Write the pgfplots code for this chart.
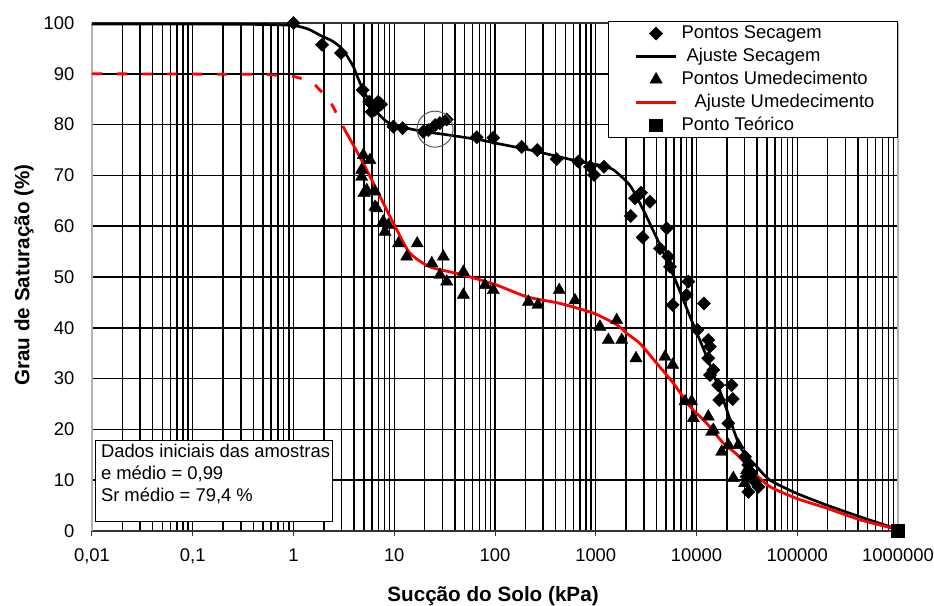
\documentclass[border=0pt]{standalone}
\usepackage{fontspec}
\setmainfont{Liberation Sans}
\usepackage{pgfplots}
\pgfplotsset{compat=1.18}
\newcommand{\rf}{\fontsize{13.8}{16}\selectfont}
\newcommand{\lbf}{\bfseries\fontsize{15.5}{18}\selectfont}
\begin{document}
\begin{tikzpicture}
\begin{axis}[
  scale only axis, width=604.5pt, height=381pt,
  xmode=log, log basis x=10,
  xmin=0.01, xmax=1000000, ymin=0, ymax=100,
  clip=false,
  xtick={0.01,0.1,1,10,100,1000,10000,100000,1000000},
  xticklabels={{0,01},{0,1},1,10,100,1000,10000,100000,1000000},
  minor xtick={0.02,0.03,0.04,0.05,0.06,0.07,0.08,0.09,
    0.2,0.3,0.4,0.5,0.6,0.7,0.8,0.9,
    2,3,4,5,6,7,8,9,
    20,30,40,50,60,70,80,90,
    200,300,400,500,600,700,800,900,
    2000,3000,4000,5000,6000,7000,8000,9000,
    20000,30000,40000,50000,60000,70000,80000,90000,
    200000,300000,400000,500000,600000,700000,800000,900000},
  ytick={0,10,20,30,40,50,60,70,80,90,100},
  yticklabels={0,10,20,30,40,50,60,70,80,90,100},
  xmajorgrids, xminorgrids, ymajorgrids,
  major grid style={black, line width=1.1pt},
  minor grid style={black, line width=1.1pt},
  separate axis lines,
  x axis line style={black!80, line width=1pt},
  y axis line style={gray!60, line width=1.2pt},
  xtick pos=left, ytick pos=left,
  tick align=outside,
  major tick length=3.75pt, minor tick length=0pt,
  xtick style={black!80, line width=0.75pt},
  ytick style={draw=none},
  tick label style={font=\rf},
  xticklabel style={yshift=-6.2pt},
  yticklabel style={xshift=-6pt},
  legend style={at={(rel axis cs:1,1)}, anchor=north east, yshift=1.5pt,
    draw=black, line width=0.75pt, fill=white,
    inner xsep=0pt, inner ysep=0.4pt, row sep=0pt, column sep=0pt,
    font=\rf, nodes={inner sep=0pt, text height=12.4pt, text depth=4.85pt}},
  legend cell align=left,
  legend image code/.code={%
    \path (0pt,0pt) (52.5pt,0pt);
    \draw[mark repeat=2, mark phase=2, #1] plot coordinates {(19.5pt,0pt) (34.5pt,0pt) (49.5pt,0pt)};
  },
]
% Pontos Secagem
\addplot[black, only marks, mark=square*, mark size=3.5pt, mark options={rotate=45, line width=0.3pt}] coordinates {
(1,100) (1.92,95.7) (2.96,94.1) (4.86,86.8) (5.65,84.5) (6.95,84.5) (7.4,84.0)
(5.97,82.5) (6.44,82.9) (9.8,79.6) (12.1,79.3) (19.4,78.6) (21.8,78.9)
(25.4,79.9) (28.4,80.3) (33.2,81.0) (65.8,77.5) (96.2,77.4) (184,75.6)
(263,75.0) (409,73.2) (672,72.7) (878,71.7) (961,70.1) (1208,71.7)
(2224,62.0) (2455,65.5) (2814,66.6) (3453,64.8) (2925,57.8) (5058,59.6)
(4345,55.6) (5250,54.0) (5460,52.0) (5800,44.5) (8300,49.1) (7980,46.5)
(11860,44.8) (10190,39.6) (13090,37.6) (13600,36.3) (13090,34.0)
(14700,31.7) (13600,30.7) (16400,28.7) (22300,28.7) (16800,25.8)
(22900,26.0) (20700,21.2) (30300,14.6) (32700,13.0) (35300,11.4)
(38100,9.7) (32700,7.7) (41100,8.7) (31500,10.7)
};
\addlegendentry{\makebox[162pt][l]{Pontos Secagem}}
% Ajuste Secagem
\addplot[black, line width=2pt, smooth, tension=0.4] coordinates {
(0.01,99.8) (0.1,99.8) (0.5,99.7) (1,99.5) (1.4,98.8) (1.83,97.6) (2.4,96.5)
(2.9,95.3) (3.4,93.5) (3.93,91.4) (4.4,89) (4.93,86.8) (5.5,85) (6.2,83.2)
(7.2,81.8) (8.4,80.6) (10,79.9) (13.3,79.3) (20,78.6) (33.2,78.0) (71,77.0)
(104,76.3) (222,75.0) (698,72.7) (1100,72.0) (1496,71.1) (2190,68.0)
(3000,63.0) (4500,55.6) (6350,48.8) (8630,42.2) (12620,34.3) (18450,25.8)
(27040,16.6) (39500,12.7) (53700,10.0) (98900,7.4) (196000,5.1)
(420000,2.8) (1000000,0.3)
};
\addlegendentry{\makebox[162pt][l]{\hspace{3.75pt}Ajuste Secagem}}
% Pontos Umedecimento
\addplot[black, only marks, mark=triangle*, mark size=5.3pt, mark options={line width=0.3pt}] coordinates {
(4.93,74.0) (5.74,73.0) (4.75,71.1) (4.75,69.7) (5.33,67.1) (6.44,66.8)
(5.0,66.5) (6.44,63.8) (6.7,63.5) (7.78,60.9) (8.72,60.2) (8.09,58.9)
(11.0,56.6) (16.9,56.6) (13.3,54.0) (23.6,52.7) (30.7,54.0) (28.4,50.4)
(33.2,49.1) (48.5,51.0) (48.5,46.5) (79.6,48.4) (96.2,47.4) (215,45.1)
(267,44.5) (434,47.4) (622,45.4) (1100,40.2) (1615,41.5) (1334,37.6)
(1812,37.6) (2510,34.0) (4870,34.3) (5800,32.7) (7690,25.5) (8950,25.5)
(9290,22.2) (13090,22.5) (14130,19.5) (14700,19.9) (17800,15.6)
(20700,16.9) (26000,16.9) (23200,10.4) (31500,12.0) (30000,9.4)
};
\addlegendentry{\makebox[162pt][l]{Pontos Umedecimento}}
% Ajuste Umedecimento
\addplot[red, line width=2.1pt, smooth, tension=0.4] coordinates {
(3.24,78.9) (4.93,72.4) (7.23,65.8) (10.6,59.3) (14.3,54.7) (22.6,52.0)
(48.5,50.4) (104,48.4) (207,46.1) (441,44.8) (946,42.9) (1615,40.6)
(2030,38.9) (2750,36.9) (4030,33.0) (5890,29.1) (8630,24.5) (12620,21.2)
(18450,17.3) (25050,15.1) (39500,11.0) (53700,8.7) (98900,6.4)
(196000,4.5) (420000,2.2) (1000000,0.3)
};
\addlegendentry{\makebox[162pt][l]{\hspace{9.75pt}Ajuste Umedecimento}}
% Ponto Teorico
\addplot[black, only marks, mark=square*, mark size=4.7pt] coordinates {(1000000,0)};
\addlegendentry{\makebox[162pt][l]{Ponto Teórico}}
% dashed part of wetting fit
\addplot[red, line width=2.1pt, dash pattern=on 7.5pt off 11.25pt, forget plot] coordinates {
(0.01,90) (0.5,89.9) (1,89.5) (1.23,89.0) (1.6,88) (1.96,86.2) (2.4,84)
(2.77,81.6) (3.24,78.9)
};
\coordinate (o) at (rel axis cs:0,0);
\coordinate (tr) at (rel axis cs:1,1);
\coordinate (circ) at (axis cs:25.4,79.1);
\end{axis}
\draw[gray!70!black, line width=0.75pt] (circ) circle[radius=13.5pt];
\node[draw=black, line width=0.75pt, fill=white, inner sep=0pt,
  minimum width=177.75pt, minimum height=60.5pt, anchor=north west]
  (tb) at ([shift={(2.25pt,68.25pt)}]o) {};
\node[anchor=base west, inner sep=0pt, font=\rf] at ([shift={(4.3pt,-13pt)}]tb.north west) {Dados iniciais das amostras};
\node[anchor=base west, inner sep=0pt, font=\rf] at ([shift={(4.3pt,-30pt)}]tb.north west) {e médio = 0,99};
\node[anchor=base west, inner sep=0pt, font=\rf] at ([shift={(4.3pt,-46.3pt)}]tb.north west) {Sr médio = 79,4 \%};
\node[anchor=base, inner sep=0pt, font=\lbf] at ([shift={(300.75pt,-52.5pt)}]o) {Sucção do Solo (kPa)};
\node[anchor=base, rotate=90, inner sep=0pt, font=\lbf] at ([shift={(-46.9pt,192pt)}]o) {Grau de Saturação (\%)};
\pgfresetboundingbox
\path ([shift={(-69pt,-56.25pt)}]o) rectangle ([shift={(27pt,17.25pt)}]tr);
\end{tikzpicture}
\end{document}
